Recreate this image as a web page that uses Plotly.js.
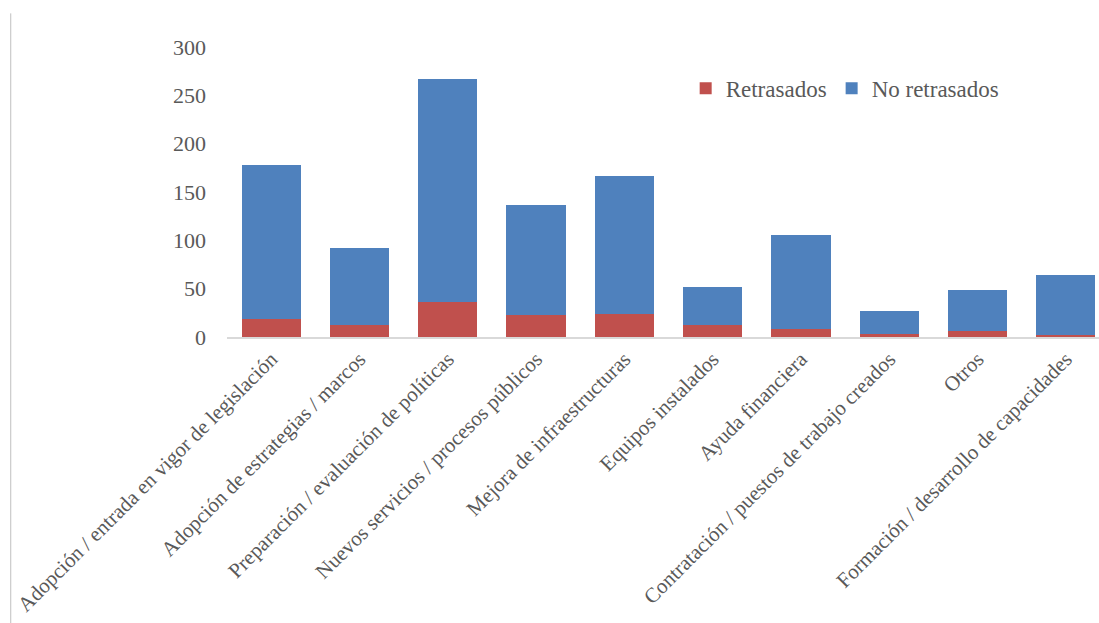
<!DOCTYPE html>
<html>
<head>
<meta charset="utf-8">
<script src="https://cdn.plot.ly/plotly-3.0.1.min.js"></script>
<style>html,body{margin:0;padding:0;background:#fff;}#chart{width:1099px;height:623px;}</style>
</head>
<body>
<div id="chart"></div>
<script>
const categories = [
  "Adopción / entrada en vigor de legislación",
  "Adopción de estrategias / marcos",
  "Preparación / evaluación de políticas",
  "Nuevos servicios / procesos públicos",
  "Mejora de infraestructuras",
  "Equipos instalados",
  "Ayuda financiera",
  "Contratación / puestos de trabajo creados",
  "Otros",
  "Formación / desarrollo de capacidades"
];
const retrasados = [19, 12, 36, 23, 24, 12, 8, 3, 6, 2];
const noRetrasados = [159, 80, 231, 114, 143, 40, 98, 24, 43, 62];
const yTicks = [0, 50, 100, 150, 200, 250, 300];

const font = "Liberation Serif, Times New Roman, serif";
const traces = [
  {type: "bar", name: "Retrasados", x: categories, y: retrasados,
   marker: {color: "#C0504D"}, width: 0.67},
  {type: "bar", name: "No retrasados", x: categories, y: noRetrasados,
   marker: {color: "#4F81BD"}, width: 0.67}
];
const layout = {
  width: 1099, height: 623,
  barmode: "stack",
  paper_bgcolor: "#fff", plot_bgcolor: "#fff",
  margin: {l: 227, r: 0, t: 47, b: 286, pad: 0},
  font: {family: font, color: "#595959"},
  showlegend: true,
  legend: {orientation: "h", x: 0.526, xanchor: "left", y: 0.858, yanchor: "middle",
           font: {family: font, size: 23, color: "#595959"}, itemwidth: 30,
           bgcolor: "rgba(0,0,0,0)", traceorder: "normal"},
  xaxis: {type: "category", range: [-0.5, 9.375], tickangle: -45,
          tickfont: {family: font, size: 21, color: "#595959"},
          showline: true, linecolor: "#d9d9d9", linewidth: 1.5,
          showgrid: false, zeroline: false, ticks: "", automargin: false},
  yaxis: {range: [0, 300], tickvals: yTicks, ticktext: yTicks.map(String),
          tickfont: {family: font, size: 22, color: "#595959"},
          showline: false, showgrid: false, zeroline: false, ticks: "",
          ticklabelstandoff: 20, automargin: false},
  shapes: [
    {type: "line", xref: "paper", yref: "paper", x0: -0.248, x1: -0.248, y0: 1.116, y1: -0.99,
     line: {color: "#bfbfbf", width: 1}}
  ]
};
Plotly.newPlot("chart", traces, layout, {staticPlot: true, displayModeBar: false});
</script>
</body>
</html>
